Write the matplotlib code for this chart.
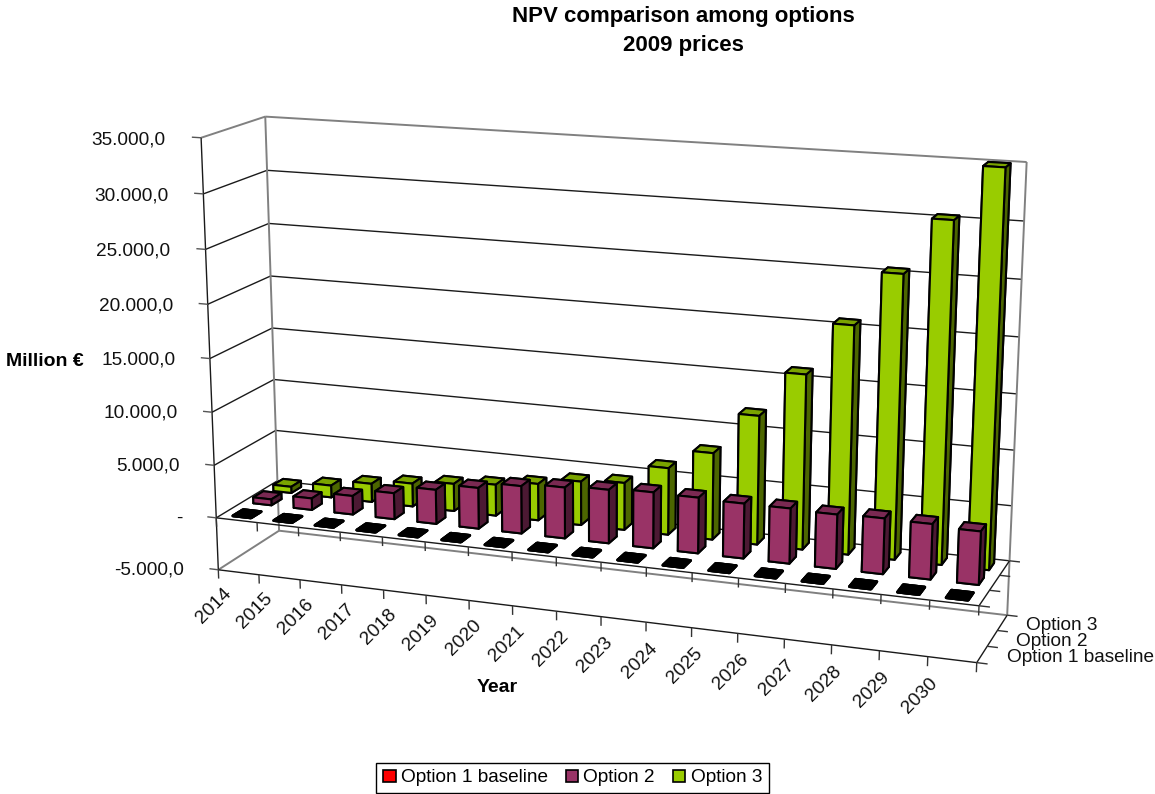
import numpy as np
import matplotlib
matplotlib.use("Agg")
import matplotlib.pyplot as plt
from matplotlib.patches import Patch
from mpl_toolkits.mplot3d import proj3d
from mpl_toolkits.mplot3d.art3d import Line3DCollection

plt.rcParams['font.family'] = ['Liberation Sans', 'DejaVu Sans']

years = ['2014', '2015', '2016', '2017', '2018', '2019', '2020', '2021', '2022',
         '2023', '2024', '2025', '2026', '2027', '2028', '2029', '2030']
series_names = ['Option 1 baseline', 'Option 2', 'Option 3']
option1 = [0, 0, 0, 0, 0, 0, 0, 0, 0, 0, 0, 0, 0, 0, 0, 0, 0]
option2 = [570, 1100, 1770, 2470, 3220, 3830, 4430, 4730, 4950,
           5150, 5100, 5000, 5000, 4900, 5000, 4950, 4750]
option3 = [600, 1150, 1750, 2200, 2600, 2950, 3450, 4100, 4400,
           6200, 8000, 11800, 15900, 20600, 25400, 30300, 35000]
z_ticks = [-5000, 0, 5000, 10000, 15000, 20000, 25000, 30000, 35000]
z_labels = ['-5.000,0', '-', '5.000,0', '10.000,0', '15.000,0', '20.000,0',
            '25.000,0', '30.000,0', '35.000,0']

# (front, top, side) colours, excel darkens the top and side faces
face_colors = [('#000000', '#000000', '#000000'),
               ('#993366', '#7A2952', '#4C1933'),
               ('#99CC00', '#7AA300', '#4C6600')]
legend_colors = ['#FF0000', '#993366', '#99CC00']

# box corners and where they sit in the reference, used to fit the camera
corners = [(0, 0, -5000), (0, 0, 35000), (0, 3, -5000), (0, 3, 35000),
           (17, 0, -5000), (17, 3, -5000), (17, 3, 35000),
           (0, 0, 0), (17, 0, 0), (17, 3, 0), (0, 3, 0)]
corners_px = [(218.3, 570), (200.7, 137.7), (279.3, 530.7), (265.7, 116.7),
              (976.7, 662.7), (1007.7, 615), (1026.7, 162),
              (216.7, 517.7), (979, 605.7), (1009, 561), (276.7, 480.7)]


def fit_projection():
    A, b = [], []
    for (x, y, z), (u, v) in zip(corners, corners_px):
        z = z / 1e4
        A.append([x, y, z, 1, 0, 0, 0, 0, -u * x, -u * y, -u * z])
        A.append([0, 0, 0, 0, x, y, z, 1, -v * x, -v * y, -v * z])
        b += [u, v]
    p = np.linalg.lstsq(np.array(A), np.array(b), rcond=None)[0]
    M = np.array([[p[0], p[1], p[2] / 1e4, p[3]],
                  [p[4], p[5], p[6] / 1e4, p[7]],
                  [-0.3, 1.0, -0.1 / 1e4, 0.0],  # depth, only for face sorting
                  [p[8], p[9], p[10] / 1e4, 1.0]])
    return M


W, H = 1155, 794
FS = 13.7
fig = plt.figure(figsize=(W / 100, H / 100), dpi=100)
# 3d axes are always forced square, so make the square as wide as the figure
ax = fig.add_axes([0, -(W - H) / 2 / H, 1, W / H], projection='3d', computed_zorder=False)
ax.set_axis_off()
proj = fit_projection()
ax.get_proj = lambda: proj

grid_c = '#1a1a1a'
wall_c = '#808080'


def line(p0, p1, color=grid_c, lw=1.0):
    ax.add_collection3d(Line3DCollection([[p0, p1]], colors=color, linewidths=lw, zorder=1,
                                         capstyle='butt'))


def label(x, y, z, s, **kw):
    # text goes in by picture position, Text3D ignores rotation=
    u, v, _ = proj3d.proj_transform(x, y, z, proj)
    ax.text2D(u, v, s, transform=ax.transData, fontsize=FS, color='#111111', **kw)


# walls and gridlines
for z in z_ticks[1:-1]:
    line((0, 0, z), (0, 3, z))
    line((0, 3, z), (17, 3, z))
line((0, 3, 35000), (17, 3, 35000), wall_c, 1.4)
line((17, 3, 35000), (17, 3, -5000), wall_c, 1.4)
line((17, 3, -5000), (0, 3, -5000), wall_c, 1.4)
line((0, 3, -5000), (0, 3, 35000), wall_c, 1.4)
line((0, 0, 35000), (0, 3, 35000), wall_c, 1.4)
line((0, 0, -5000), (0, 3, -5000), wall_c, 1.4)
line((0, 0, 35000), (0, 0, -5000))

# floor edges and ticks
for z in [-5000, 0]:
    line((0, 0, z), (17, 0, z))
    line((17, 0, z), (17, 3, z))
    for i in range(18):
        line((i, 0, z), (i, 0, z - 850), '#333333')
    for j in range(4):
        line((17, j, z), (17.22, j, z), '#333333')
for z in z_ticks:
    line((0, 0, z), (-0.22, 0, z), '#555555')

# bars, back row first so the front rows paint over it
order = 2
for row, values in [(2, option3), (1, option2), (0, option1)]:
    front, top, side = face_colors[row]
    for i, v in enumerate(values):
        # faces: bottom, top, front, back, left, right
        ax.bar3d(i + 0.275, row + 0.25, 0, 0.45, 0.5, v,
                 color=[side, top, front, side, side, side], shade=False,
                 edgecolor='black', linewidth=1.9 if row == 0 else 1.5, zorder=order)
        order += 1

# labels
for z, lab in zip(z_ticks, z_labels):
    label(-0.85, 0, z - 440, lab, ha='right', va='center')
for i, y in enumerate(years):
    label(i - 0.14, 0, -8600, y, rotation=45, ha='center', va='center')
for j, name in enumerate(series_names):
    label(17.5, j + 0.5, -5000, name, ha='left', va='center')

ax.viewLim.intervalx = (0, W)
ax.viewLim.intervaly = (H + (W - H) / 2, -(W - H) / 2)

fig.text(683 / W, 1 - 31 / H, 'NPV comparison among options\n2009 prices', ha='center',
         va='center', fontsize=16, fontweight='bold', linespacing=1.5)
fig.text(45 / W, 1 - 361 / H, 'Million €', ha='center', va='center', fontsize=14,
         fontweight='bold')
fig.text(497 / W, 1 - 688 / H, 'Year', ha='center', va='center', fontsize=14,
         fontweight='bold')

handles = [Patch(facecolor=c, edgecolor='black', linewidth=1.2) for c in legend_colors]
fig.legend(handles, series_names, ncol=3, loc='center', bbox_to_anchor=(572.5 / W, 1 - 778 / H),
           fontsize=FS, frameon=True, fancybox=False, edgecolor='black', framealpha=1,
           handlelength=0.66, handleheight=0.63, handletextpad=0.28, columnspacing=0.93,
           borderpad=0.36, borderaxespad=0)

fig.savefig('out.png', dpi=100)
